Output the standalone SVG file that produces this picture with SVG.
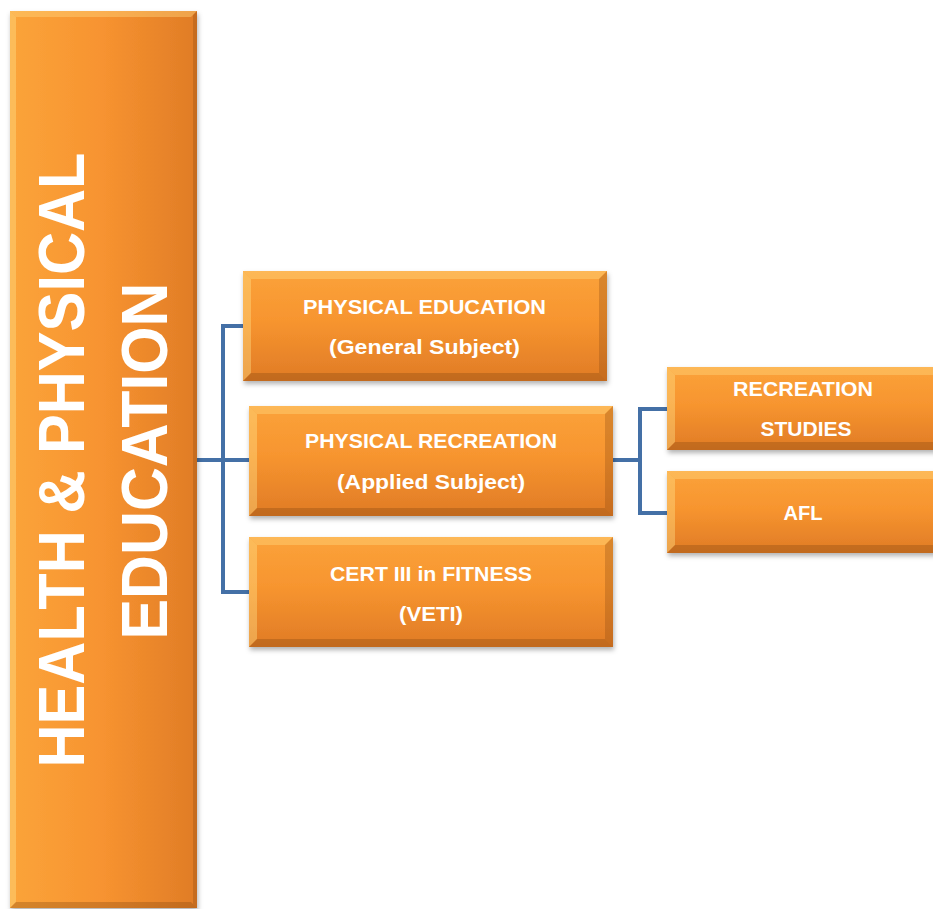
<svg xmlns="http://www.w3.org/2000/svg" width="933" height="909" viewBox="0 0 933 909">
<defs>
<linearGradient id="gMain" x1="0" y1="0" x2="1" y2="0">
<stop offset="0" stop-color="#FBA43A"/>
<stop offset="0.5" stop-color="#F79330"/>
<stop offset="1" stop-color="#E07C26"/>
</linearGradient>
<linearGradient id="gBox" x1="0" y1="0" x2="0" y2="1">
<stop offset="0" stop-color="#FBA23A"/>
<stop offset="0.45" stop-color="#F7952F"/>
<stop offset="1" stop-color="#E07B26"/>
</linearGradient>
<filter id="sh" x="-10%" y="-10%" width="130%" height="130%">
<feDropShadow dx="1" dy="3" stdDeviation="2.5" flood-color="#000" flood-opacity="0.3"/>
</filter>
<style>
.box{fill:url(#gBox);filter:url(#sh);}
.main{fill:url(#gMain);filter:url(#sh);}
.bt{fill:#FFD27A;opacity:0.45;}
.bl{fill:#FFE08A;opacity:0.4;}
.bb{fill:#8A4A10;opacity:0.35;}
.br{fill:#8A4A10;opacity:0.3;}
.t{font-family:"Liberation Sans",Arial,sans-serif;font-weight:bold;font-size:21px;fill:#FFFFFF;text-anchor:middle;}
.mt{font-family:"Liberation Sans",Arial,sans-serif;font-weight:bold;font-size:65px;fill:#FFFFFF;text-anchor:middle;}
.c{fill:none;stroke:#4470A6;stroke-width:4;}
</style>
</defs>
<g id="connectors">
<path class="c" d="M197,460 H249"/>
<path class="c" d="M243,326 H223 V592 H249"/>
<path class="c" d="M613,460 H640"/>
<path class="c" d="M667,409 H640 V513 H667"/>
</g>
<g id="main">
<rect class="main" x="10" y="11" width="187" height="897"/>
<polygon class="bt" points="10,11 197,11 191,17 16,17"/>
<polygon class="bl" points="10,11 16,17 16,902 10,908"/>
<polygon class="bb" points="10,908 16,902 191,902 197,908"/>
<polygon class="br" points="197,11 197,908 193,904 193,15"/>
<text class="mt" transform="translate(84,460) rotate(-90)" textLength="615" lengthAdjust="spacingAndGlyphs">HEALTH &amp; PHYSICAL</text>
<text class="mt" transform="translate(167,461) rotate(-90)" textLength="357" lengthAdjust="spacingAndGlyphs">EDUCATION</text>
</g>
<g id="pe">
<rect class="box" x="243" y="271" width="364" height="110"/>
<polygon class="bt" points="243,271 607,271 599,279 251,279"/>
<polygon class="bl" points="243,271 251,279 251,373 243,381"/>
<polygon class="bb" points="243,381 251,373 599,373 607,381"/>
<polygon class="br" points="607,271 607,381 599,373 599,279"/>
<text class="t" x="424.5" y="314" textLength="243" lengthAdjust="spacingAndGlyphs">PHYSICAL EDUCATION</text>
<text class="t" x="424.5" y="354" textLength="191" lengthAdjust="spacingAndGlyphs">(General Subject)</text>
</g>
<g id="pr">
<rect class="box" x="249" y="406" width="364" height="110"/>
<polygon class="bt" points="249,406 613,406 605,414 257,414"/>
<polygon class="bl" points="249,406 257,414 257,508 249,516"/>
<polygon class="bb" points="249,516 257,508 605,508 613,516"/>
<polygon class="br" points="613,406 613,516 605,508 605,414"/>
<text class="t" x="431" y="448" textLength="252" lengthAdjust="spacingAndGlyphs">PHYSICAL RECREATION</text>
<text class="t" x="431" y="489" textLength="188" lengthAdjust="spacingAndGlyphs">(Applied Subject)</text>
</g>
<g id="cert">
<rect class="box" x="249" y="537" width="364" height="110"/>
<polygon class="bt" points="249,537 613,537 605,545 257,545"/>
<polygon class="bl" points="249,537 257,545 257,639 249,647"/>
<polygon class="bb" points="249,647 257,639 605,639 613,647"/>
<polygon class="br" points="613,537 613,647 605,639 605,545"/>
<text class="t" x="431" y="581" textLength="202" lengthAdjust="spacingAndGlyphs">CERT III in FITNESS</text>
<text class="t" x="431" y="621" textLength="64" lengthAdjust="spacingAndGlyphs">(VETI)</text>
</g>
<g id="rs">
<rect class="box" x="667" y="367" width="280" height="83"/>
<polygon class="bt" points="667,367 947,367 939,375 675,375"/>
<polygon class="bl" points="667,367 675,375 675,442 667,450"/>
<polygon class="bb" points="667,450 675,442 939,442 947,450"/>
<text class="t" x="803" y="396" textLength="140" lengthAdjust="spacingAndGlyphs">RECREATION</text>
<text class="t" x="806" y="436" textLength="91" lengthAdjust="spacingAndGlyphs">STUDIES</text>
</g>
<g id="afl">
<rect class="box" x="667" y="471" width="280" height="82"/>
<polygon class="bt" points="667,471 947,471 939,479 675,479"/>
<polygon class="bl" points="667,471 675,479 675,545 667,553"/>
<polygon class="bb" points="667,553 675,545 939,545 947,553"/>
<text class="t" x="803" y="520" textLength="39" lengthAdjust="spacingAndGlyphs">AFL</text>
</g>
</svg>
